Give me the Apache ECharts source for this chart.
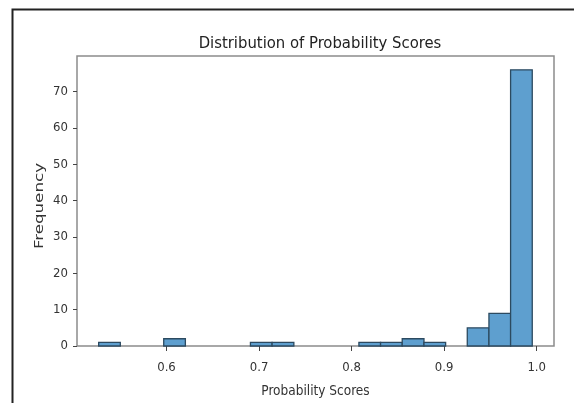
<!DOCTYPE html>
<html>
<head>
<meta charset="utf-8">
<script src="https://cdn.jsdelivr.net/npm/echarts@6/dist/echarts.min.js"></script>
<style>
  html, body { margin: 0; padding: 0; background: #fff; }
  #chart { width: 574px; height: 403px; }
</style>
</head>
<body>
<div id="chart"></div>
<script>
// Histogram of probability scores: 20 equal-width bins
const binEdges = [0.5267, 0.5501, 0.5735, 0.5970, 0.6204, 0.6438, 0.6673, 0.6907, 0.7141, 0.7376,
                  0.7610, 0.7844, 0.8079, 0.8313, 0.8547, 0.8782, 0.9016, 0.9250, 0.9484, 0.9718, 0.9952];
const counts = [1, 0, 0, 2, 0, 0, 0, 1, 1, 0, 0, 0, 1, 1, 2, 1, 0, 5, 9, 76];
const xTicks = [0.6, 0.7, 0.8, 0.9, 1.0];
const yTicks = [0, 10, 20, 30, 40, 50, 60, 70];

const FONT = '"DejaVu Sans Condensed", "Liberation Sans Narrow", "DejaVu Sans", sans-serif';

const bins = [];
for (let i = 0; i < counts.length; i++) {
  if (counts[i] > 0) bins.push([binEdges[i], binEdges[i + 1], counts[i]]);
}

// The y-axis title is drawn tall and narrow: stretch it along its reading direction
const Y_NAME = 'Frequency';
const Y_NAME_SIZE = 12;
const Y_NAME_LENGTH = 86;
const ctx = document.createElement('canvas').getContext('2d');
ctx.font = Y_NAME_SIZE + 'px ' + FONT;
const yNameStretch = Y_NAME_LENGTH / ctx.measureText(Y_NAME).width;

const chart = echarts.init(document.getElementById('chart'), null, { renderer: 'canvas' });
chart.setOption({
  animation: false,
  backgroundColor: '#ffffff',
  title: {
    text: 'Distribution of Probability Scores',
    left: 315,
    top: 30,
    textAlign: 'center',
    textStyle: { fontFamily: FONT, fontSize: 16.5, fontWeight: 'normal', color: '#222' }
  },
  grid: {
    left: 77, top: 56, right: 20, bottom: 57,
    show: true, borderColor: '#8c8c8c', borderWidth: 1.5, backgroundColor: 'transparent'
  },
  xAxis: {
    type: 'value',
    min: 0.5033,
    max: 1.0187,
    name: 'Probability Scores',
    nameLocation: 'middle',
    nameGap: 38,
    nameTextStyle: { fontFamily: FONT, fontSize: 13.5, color: '#333' },
    axisLine: { show: false },
    splitLine: { show: false },
    axisTick: { show: true, length: 5, inside: false, customValues: xTicks, lineStyle: { color: '#444', width: 1 } },
    axisLabel: {
      customValues: xTicks,
      margin: 15,
      fontFamily: FONT, fontSize: 13, color: '#333',
      formatter: v => v.toFixed(1)
    }
  },
  yAxis: {
    type: 'value',
    min: 0,
    max: 79.8,
    axisLine: { show: false },
    splitLine: { show: false },
    axisTick: { show: true, length: 4, inside: false, customValues: yTicks, lineStyle: { color: '#444', width: 1 } },
    axisLabel: {
      customValues: yTicks,
      margin: 9,
      fontFamily: FONT, fontSize: 13, color: '#333'
    }
  },
  series: [{
    type: 'custom',
    data: bins,
    encode: { x: [0, 1], y: 2 },
    renderItem: function (params, api) {
      const top = api.coord([api.value(0), api.value(2)]);
      const base = api.coord([api.value(1), 0]);
      return {
        type: 'rect',
        shape: { x: top[0], y: top[1], width: base[0] - top[0], height: base[1] - top[1] },
        style: { fill: '#5e9fcf', stroke: '#2c4a60', lineWidth: 1.3 }
      };
    }
  }],
  graphic: [{
    type: 'rect',
    shape: { x: 12.5, y: 9.5, width: 700, height: 500 },
    style: { fill: 'none', stroke: '#222', lineWidth: 2 },
    silent: true
  }, {
    type: 'text',
    x: 40,
    y: 206,
    rotation: Math.PI / 2,
    scaleX: yNameStretch,
    style: {
      text: Y_NAME,
      fontFamily: FONT,
      fontSize: Y_NAME_SIZE,
      fill: '#333',
      align: 'center',
      verticalAlign: 'middle'
    },
    silent: true
  }]
});
</script>
</body>
</html>
